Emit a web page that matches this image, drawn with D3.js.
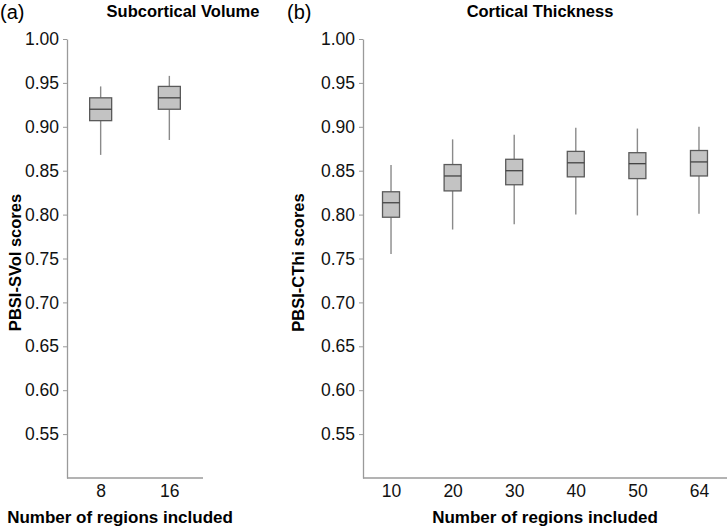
<!DOCTYPE html>
<html>
<head>
<meta charset="utf-8">
<script src="https://cdn.jsdelivr.net/npm/d3@7"></script>
<style>
	body { margin: 0; background: #fff; }
	text { font-family: Arial, "Liberation Sans", sans-serif; }
</style>
</head>
<body>
<script>
'use strict';

// Panel (a): subcortical volume
const svolRegions = ["8", "16"];
const svolWhiskerLow = [0.868, 0.885];
const svolQ1 = [0.907, 0.920];
const svolMedian = [0.920, 0.933];
const svolQ3 = [0.933, 0.946];
const svolWhiskerHigh = [0.946, 0.958];

// Panel (b): cortical thickness
const cthiRegions = ["10", "20", "30", "40", "50", "64"];
const cthiWhiskerLow = [0.755, 0.783, 0.789, 0.800, 0.799, 0.801];
const cthiQ1 = [0.797, 0.827, 0.834, 0.843, 0.841, 0.844];
const cthiMedian = [0.8135, 0.844, 0.850, 0.859, 0.858, 0.860];
const cthiQ3 = [0.826, 0.857, 0.863, 0.872, 0.8705, 0.873];
const cthiWhiskerHigh = [0.8565, 0.8857, 0.891, 0.899, 0.898, 0.900];

const yTicks = [0.55, 0.60, 0.65, 0.70, 0.75, 0.80, 0.85, 0.90, 0.95, 1.00];

const params = {
	width: 728,
	height: 528,
	top: 39,
	bottom: 478
};

const svg = d3.select("body")
	.append("svg")
	.attr("width", params.width)
	.attr("height", params.height)

const yScale = d3.scaleLinear()
	.domain([0.5, 1.0])
	.range([params.bottom, params.top])

// zip the stat arrays into box records
const makeBoxes = (cats, lo, q1, med, q3, hi) => cats.map((c, i) => ({
	cat: c, lo: lo[i], q1: q1[i], med: med[i], q3: q3[i], hi: hi[i]
}))

// draw one panel: axes, boxes, labels
const drawPanel = (opt) => {
	const g = svg.append("g")

	const xScale = d3.scalePoint()
		.domain(opt.cats)
		.range([opt.x0, opt.x1])
		.padding(opt.pad)

	// y axis
	const yAxis = g.append("g")
		.attr("transform", `translate(${opt.x0},0)`)
		.call(d3.axisLeft(yScale)
			.tickValues(yTicks)
			.tickFormat(d3.format(".2f"))
			.tickSize(4)
			.tickSizeOuter(0)
			.tickPadding(4))
	yAxis.select(".domain").attr("stroke", "#9a9a9a").attr("stroke-width", 1.3)
	yAxis.selectAll(".tick line").attr("stroke", "#9a9a9a")
	yAxis.selectAll(".tick text")
		.attr("fill", "#111")
		.style("font-size", "17.5px")

	// x axis
	const xAxis = g.append("g")
		.attr("transform", `translate(0,${params.bottom})`)
		.call(d3.axisBottom(xScale).tickSize(0).tickPadding(7))
	xAxis.select(".domain").remove()
	xAxis.selectAll(".tick text")
		.attr("fill", "#111")
		.style("font-size", "17.5px")
	g.append("line")
		.attr("x1", opt.x0).attr("x2", opt.x1)
		.attr("y1", params.bottom).attr("y2", params.bottom)
		.attr("stroke", "#9a9a9a")
		.attr("stroke-width", 1.3)

	// boxes
	const bw = opt.boxWidth
	const boxes = g.selectAll(".box")
		.data(opt.boxes)
		.join("g")
		.attr("class", "box")
		.attr("transform", d => `translate(${xScale(d.cat)},0)`)

	boxes.append("line")
		.attr("y1", d => yScale(d.hi)).attr("y2", d => yScale(d.q3))
		.attr("stroke", "#8a8a8a").attr("stroke-width", 1.4)
	boxes.append("line")
		.attr("y1", d => yScale(d.q1)).attr("y2", d => yScale(d.lo))
		.attr("stroke", "#8a8a8a").attr("stroke-width", 1.4)
	boxes.append("rect")
		.attr("x", -bw / 2)
		.attr("width", bw)
		.attr("y", d => yScale(d.q3))
		.attr("height", d => yScale(d.q1) - yScale(d.q3))
		.attr("fill", "#c3c3c3")
		.attr("stroke", "#5a5a5a")
		.attr("stroke-width", 1.3)
	boxes.append("line")
		.attr("x1", -bw / 2).attr("x2", bw / 2)
		.attr("y1", d => yScale(d.med)).attr("y2", d => yScale(d.med))
		.attr("stroke", "#444").attr("stroke-width", 1.3)

	// titles and labels
	g.append("text")
		.attr("x", opt.titleX).attr("y", 17)
		.attr("text-anchor", "middle")
		.style("font-size", "16.5px").style("font-weight", "bold")
		.text(opt.title)
	g.append("text")
		.attr("x", opt.tagX).attr("y", 19)
		.style("font-size", "20px")
		.text(opt.tag)
	g.append("text")
		.attr("transform", `translate(${opt.yLabelX},${(params.top + params.bottom) / 2 + 4}) rotate(-90)`)
		.attr("text-anchor", "middle")
		.style("font-size", "16.5px").style("font-weight", "bold")
		.text(opt.yLabel)
	g.append("text")
		.attr("x", opt.xLabelX).attr("y", 523)
		.attr("text-anchor", "middle")
		.style("font-size", "17px").style("font-weight", "bold")
		.text("Number of regions included")
}

drawPanel({
	cats: svolRegions,
	boxes: makeBoxes(svolRegions, svolWhiskerLow, svolQ1, svolMedian, svolQ3, svolWhiskerHigh),
	x0: 67, x1: 203, pad: 0.49,
	boxWidth: 22,
	title: "Subcortical Volume", titleX: 183,
	tag: "(a)", tagX: 0,
	yLabel: "PBSI-SVol scores", yLabelX: 21,
	xLabelX: 120
})

drawPanel({
	cats: cthiRegions,
	boxes: makeBoxes(cthiRegions, cthiWhiskerLow, cthiQ1, cthiMedian, cthiQ3, cthiWhiskerHigh),
	x0: 363, x1: 727, pad: 0.455,
	boxWidth: 17,
	title: "Cortical Thickness", titleX: 540,
	tag: "(b)", tagX: 287,
	yLabel: "PBSI-CThi scores", yLabelX: 304,
	xLabelX: 545
})
</script>
</body>
</html>
